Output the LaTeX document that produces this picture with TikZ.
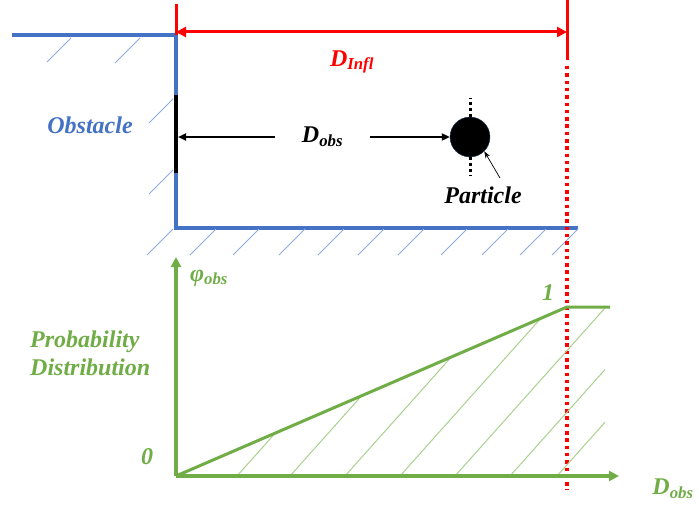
\documentclass[tikz,border=0pt]{standalone}
\usepackage{xcolor}
\usepackage{fontspec}
\setmainfont{Liberation Serif}
\usetikzlibrary{
  arrows.meta,
  positioning,
  calc
}
\definecolor{obBlue}{HTML}{4472C4}
\definecolor{obHatch}{HTML}{8FAADC}
\definecolor{pdGreen}{HTML}{70AD47}
\definecolor{pdHatch}{HTML}{A9D18E}
\definecolor{inRed}{HTML}{FF0000}
\tikzset{
  lbl/.style={font=\fontsize{24}{28}\selectfont\bfseries\itshape, inner sep=0pt},
  wall/.style={obBlue, line width=3.5pt},
  wallhatch/.style={obHatch, line width=1pt},
  facebar/.style={black, line width=3.5pt},
  infl/.style={{Triangle[length=10pt,width=10pt]}-{Triangle[length=10pt,width=10pt]}, inRed, line width=3pt},
  inflline/.style={inRed, line width=3pt},
  infldots/.style={inRed, line width=3.5pt, dash pattern=on 3.5pt off 3.8pt},
  dobsarrow/.style={-{Triangle[length=8pt,width=7pt]}, black, line width=2pt},
  particle/.style={circle, fill=black, draw=obBlue!50!black, thin, minimum size=40pt, inner sep=0pt},
  pdots/.style={black, line width=3pt, dash pattern=on 3pt off 3pt},
  ptr/.style={-{Stealth[length=7pt,width=5pt]}, black, line width=0.7pt},
  pdaxis/.style={-{Triangle[length=10pt,width=10pt]}, pdGreen, line width=3.5pt},
  pdcurve/.style={pdGreen, line width=3pt},
  pdhatch/.style={pdHatch, line width=1pt}
}

\begin{document}
\begin{tikzpicture}[x=1pt, y=-1pt]
  \useasboundingbox (0,0) rectangle (699,511);

  % obstacle walls
  \coordinate (wallTop) at (176,35);
  \coordinate (wallBot) at (176,228);
  \draw[wall] (12,35) -- (wallTop) -- (wallBot) -- (578,228);
  \draw[wallhatch] (47,62) -- ++(24,-24);
  \draw[wallhatch] (115,63) -- ++(25,-25);
  \draw[wallhatch] (149,123) -- ++(24,-24);
  \draw[wallhatch] (149,194) -- ++(24,-24);
  \foreach \x in {147,190,233,279,318,358,398,441,482,520,552}
    \draw[wallhatch] (\x,255) -- ++(26,-26);
  \draw[facebar] (176,95) -- (176,173);
  \coordinate (face) at (178,137);

  % influence distance
  \coordinate (dimL) at (176,32);
  \coordinate (dimR) at (567,32);
  \draw[inflline] (176,4) -- (wallTop);
  \draw[inflline] (567,0) -- (567,60);
  \draw[infldots] (567,66) -- (567,490);
  \draw[infl] (dimL) -- (dimR);
  \node[lbl, text=inRed] (dinfl) at (352,62) {D\textsubscript{Infl}};

  % particle and distance to obstacle
  \node[lbl, text=obBlue] (obst) at (90,125) {Obstacle};
  \node[particle] (part) at (470,137) {};
  \node[lbl, inner xsep=26.5pt] (dobs) at (322.5,137) {D\textsubscript{obs}};
  \draw[dobsarrow] (dobs.west) -- (face);
  \draw[dobsarrow] (dobs.east) -- (part.west);
  \draw[pdots] (part.north) -- ++(0,-19);
  \draw[pdots] (part.south) -- ++(0,19);
  \node[lbl] (plab) at (483,195) {Particle};
  \coordinate (ptrStart) at (500,178);
  \draw[ptr] (ptrStart) -- (part.-45);

  % probability distribution
  \coordinate (origin) at (176,476);
  \coordinate (knee) at (567,307);
  \coordinate (flatEnd) at (610,307);
  \begin{scope}
    \clip (origin) -- (knee) -- (605,307) -- (605,476) -- cycle;
    \foreach \x in {183,237,290,345,400,455,510,557}
      \draw[pdhatch] (\x,476) -- ++(200,-224);
  \end{scope}
  \draw[pdaxis] (origin) -- (176,257);
  \draw[pdaxis] (origin) -- (619,476);
  \draw[pdcurve] (origin) -- (knee) -- (flatEnd);
  \node[lbl, text=pdGreen] (phi) at (209,278) {φ\textsubscript{obs}};
  \node[lbl, text=pdGreen] (xlab) at (673,489) {D\textsubscript{obs}};
  \node[lbl, text=pdGreen] (one) at (548,293) {1};
  \node[lbl, text=pdGreen] (zero) at (147,457) {0};
  \node[lbl, text=pdGreen, align=left, anchor=west] (prob) at (30,353) {Probability\\Distribution};
\end{tikzpicture}
\end{document}
